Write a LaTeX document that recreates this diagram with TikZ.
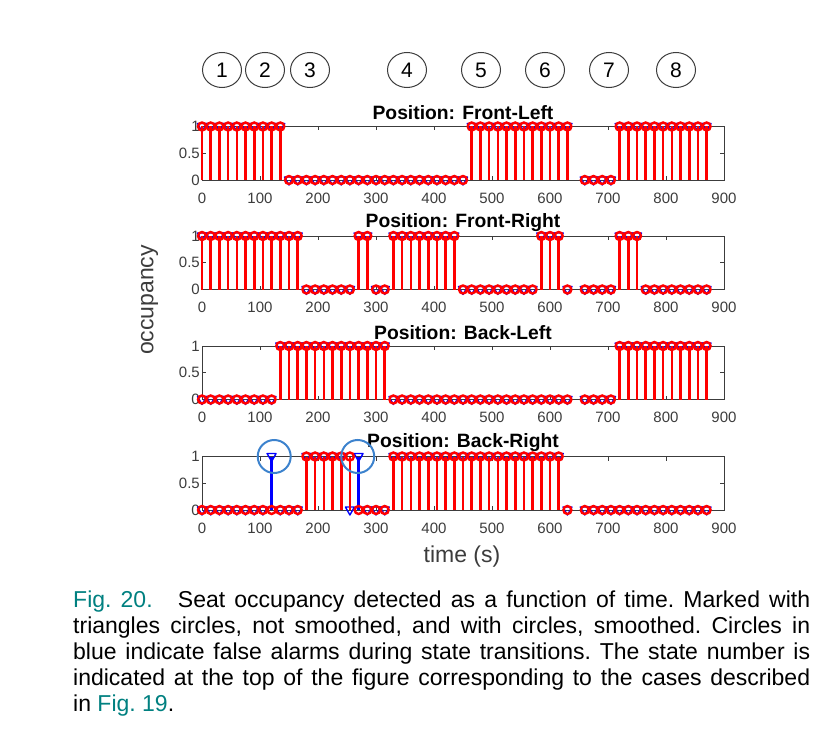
\documentclass[tikz,border=0pt]{standalone}
\usepackage{fontspec}
\setmainfont{Liberation Sans}
\usetikzlibrary{shapes.geometric}
\definecolor{axgray}{RGB}{60,60,60}
\definecolor{alarmblue}{RGB}{60,130,205}
\definecolor{figteal}{RGB}{0,128,128}

\tikzset{
  axbox/.style={draw=axgray, line width=1pt},
  ticklab/.style={text=axgray, font=\fontsize{15}{15}\selectfont, inner sep=0pt},
  paneltitle/.style={font=\fontsize{19.3}{19.3}\selectfont\bfseries, inner sep=0pt},
  stemline/.style={red, line width=2.6pt},
  rawstem/.style={blue, line width=2.4pt},
  rawmark/.style={blue, line width=1.4pt, line join=round},
  smoothmark/.style={red, line width=2.4pt},
  alarmring/.style={alarmblue, line width=2pt},
  statering/.style={draw=axgray, ellipse, line width=1pt, minimum width=39pt,
    minimum height=35pt, inner sep=0pt, font=\fontsize{21}{21}\selectfont},
  axlabel/.style={text=axgray, font=\fontsize{23}{23}\selectfont, inner sep=0pt},
  captext/.style={text width=737pt, align=justify, inner sep=0pt,
    font=\fontsize{23}{26}\selectfont},
}

% box, ticks and title of one panel
\newcommand\occframe[2]{%
  \draw[axbox] (0,0) rectangle (900,1);
  \foreach \xt in {100,200,...,800}
    \draw[axbox] (\xt,0) -- ++(0,4pt) (\xt,1) -- ++(0,-4pt);
  \draw[axbox] (0,0.5) -- ++(4pt,0) (900,0.5) -- ++(-4pt,0);
  \foreach \xt in {0,100,...,900}
    \node[ticklab, yshift=-18pt] (#1-x\xt) at (\xt,0) {\xt};
  \foreach \yt [count=\k] in {0,0.5,1}
    \node[ticklab, anchor=east, xshift=-2pt] (#1-y\k) at (0,\yt) {\yt};
  \node[paneltitle, yshift=13.5pt] (#1-title) at (450,1) {#2};
}
% raw readings: triangles
\newcommand\rawseries[2]{%
  \foreach \t in #1 {
    \draw[rawstem] (\t,0) -- (\t,1);
    \draw[rawmark] (\t,1) ++(-4.5pt,3pt) -- ++(9pt,0) -- ++(-4.5pt,-8pt) -- cycle;
  }
  \foreach \t in #2
    \draw[rawmark] (\t,0) ++(-4.5pt,3pt) -- ++(9pt,0) -- ++(-4.5pt,-8pt) -- cycle;
}
% smoothed readings: circles
\newcommand\smoothseries[2]{%
  \foreach \t in #1 \draw[stemline] (\t,0) -- (\t,1);
  \foreach \t in #1 \draw[smoothmark] (\t,1) circle (4pt);
  \foreach \t in #2 \draw[smoothmark] (\t,0) circle (4pt);
}

\begin{document}
\begin{tikzpicture}[x=1pt,y=1pt]
\useasboundingbox (0,0) rectangle (830,-749);

\foreach \n/\cx in {1/222,2/265,3/310,4/407,5/481,6/545,7/609,8/676}
  \node[statering] (state\n) at (\cx,-70) {\n};

% Front-Left
\begin{scope}[shift={(202pt,-180pt)}, x=0.58pt, y=53.5pt]
  \occframe{fl}{Position: Front-Left}
  \def\ones{0,15,...,135,465,480,...,630,720,735,...,870}
  \def\zeros{150,165,...,450,660,675,...,705}
  \rawseries{\ones}{\zeros}
  \smoothseries{\ones}{\zeros}
\end{scope}

% Front-Right
\begin{scope}[shift={(202pt,-289.5pt)}, x=0.58pt, y=53.5pt]
  \occframe{fr}{Position: Front-Right}
  \def\ones{0,15,...,165,270,285,330,345,...,435,585,600,615,720,735,750}
  \def\zeros{180,195,...,255,300,315,450,465,...,570,630,660,675,...,705,765,780,...,870}
  \rawseries{\ones}{\zeros}
  \smoothseries{\ones}{\zeros}
\end{scope}

% Back-Left
\begin{scope}[shift={(202pt,-399.5pt)}, x=0.58pt, y=53.5pt]
  \occframe{bl}{Position: Back-Left}
  \def\ones{135,150,...,315,720,735,...,870}
  \def\zeros{0,15,...,120,330,345,...,630,660,675,...,705}
  \rawseries{\ones}{\zeros}
  \smoothseries{\ones}{\zeros}
\end{scope}

% Back-Right, raw and smoothed differ
\begin{scope}[shift={(202pt,-510pt)}, x=0.58pt, y=53.5pt]
  \occframe{br}{Position: Back-Right}
  \rawseries{{120,180,195,...,240,270,330,345,...,615}}
    {{0,15,...,105,135,150,165,255,285,300,315,630,660,675,...,870}}
  \smoothseries{{180,195,...,255,330,345,...,615}}
    {{0,15,...,165,270,285,300,315,630,660,675,...,870}}
  \draw[alarmring] (124.5,1) circle (16.5pt);
  \draw[alarmring] (268.5,1) circle (16.5pt);
\end{scope}

\node[axlabel, rotate=90] (ylabel) at (149.5,-300) {occupancy};
\node[axlabel] (xlabel) at (462,-557) {time (s)};

\node[captext, anchor=north west] (caption) at (73,-590.4) {\noindent\frenchspacing
  \textcolor{figteal}{Fig.~20.}\hspace{1.1em}Seat occupancy detected as a function
  of time. Marked with\linebreak triangles circles, not smoothed, and with
  circles, smoothed. Circles in\linebreak blue indicate false alarms during
  state transitions. The state number is\linebreak indicated at the top of the
  figure corresponding to the cases described\linebreak
  in \textcolor{figteal}{Fig.~19}.};
\end{tikzpicture}
\end{document}
